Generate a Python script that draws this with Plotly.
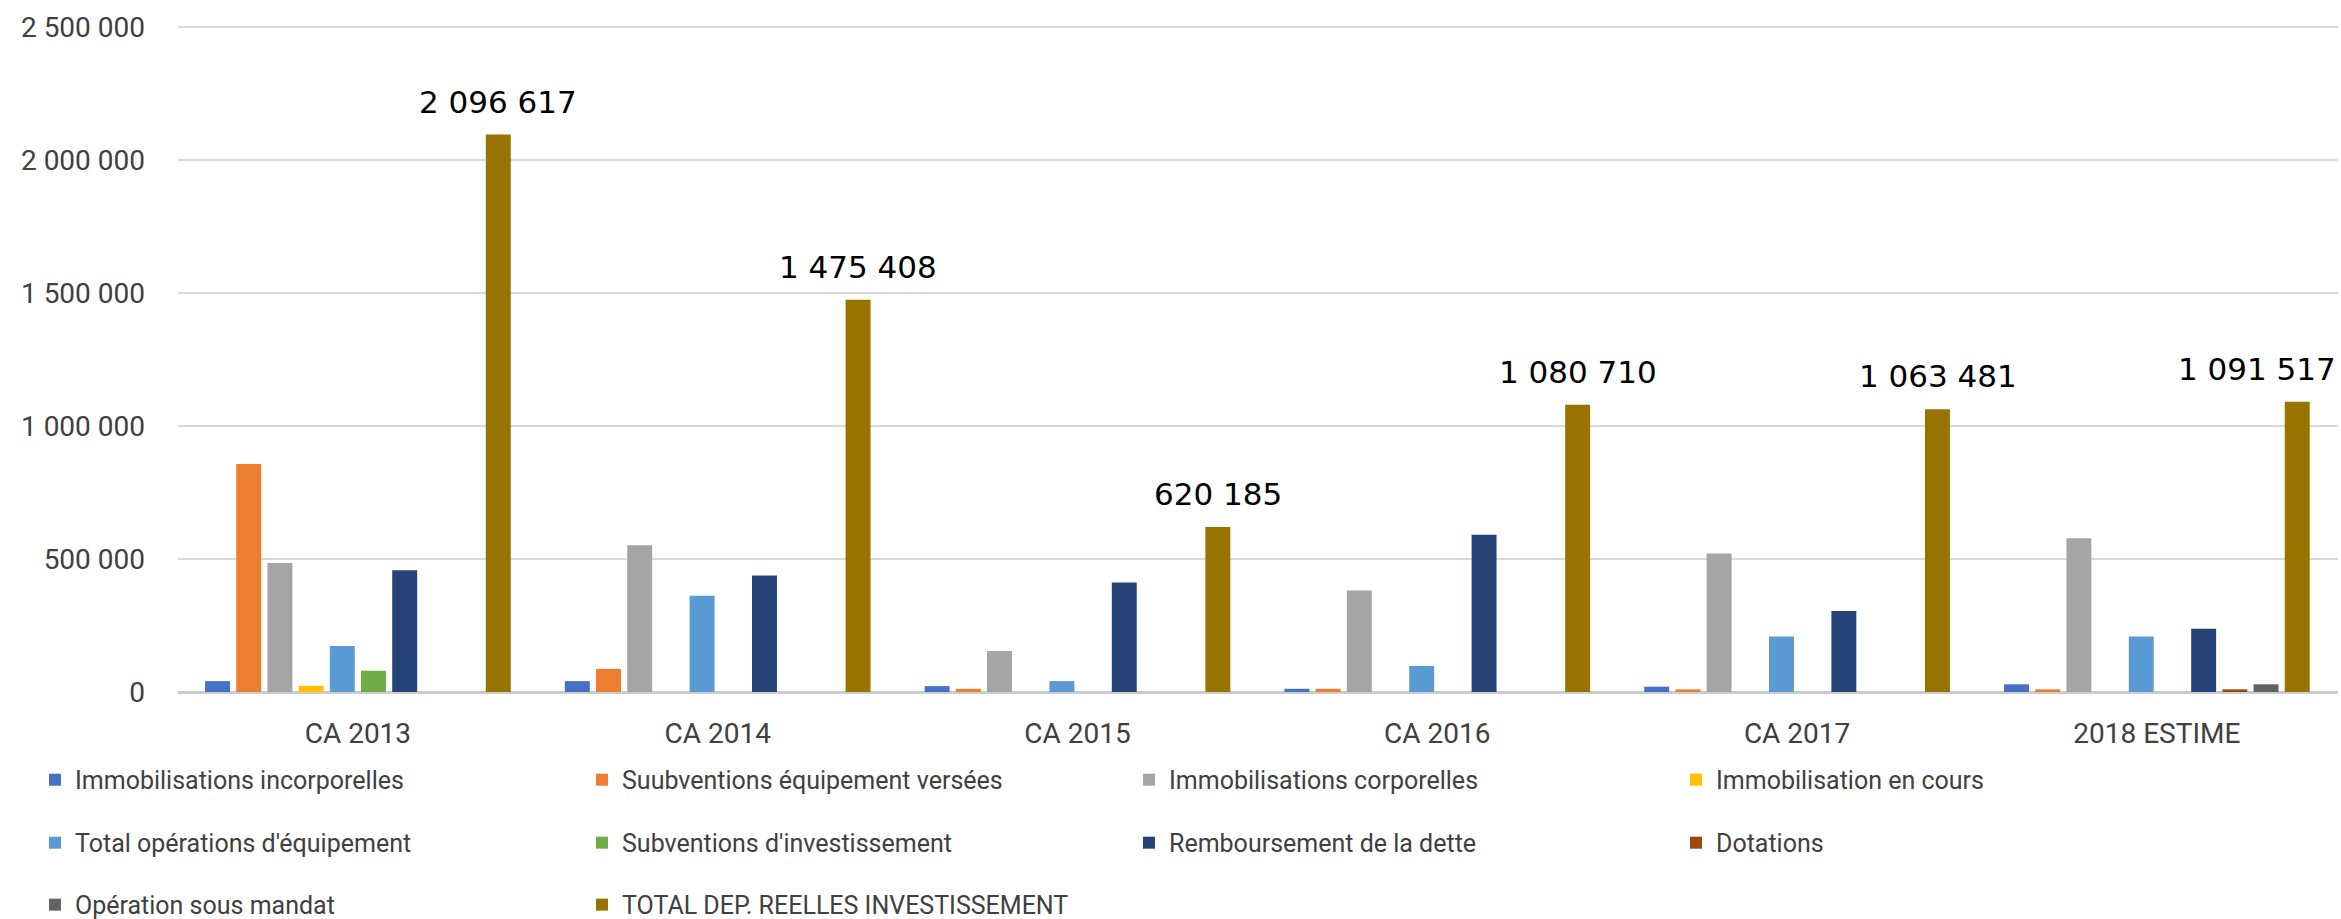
import plotly.graph_objects as go

categories = ["CA 2013", "CA 2014", "CA 2015", "CA 2016", "CA 2017", "2018 ESTIME"]

immo_incorporelles = [41000, 41000, 22000, 12000, 20000, 29000]
subv_equipement = [858000, 87000, 12000, 12000, 10000, 10000]
immo_corporelles = [485000, 552000, 154000, 382000, 521000, 578000]
immo_en_cours = [23000, None, None, None, None, None]
total_operations = [173000, 362000, 41000, 98000, 209000, 209000]
subv_investissement = [80000, None, None, None, None, None]
remboursement_dette = [458000, 438000, 412000, 591000, 305000, 238000]
dotations = [None, None, None, None, None, 10000]
operation_mandat = [None, None, None, None, None, 29000]
total_dep = [2096617, 1475408, 620185, 1080710, 1063481, 1091517]

y_ticks = [0, 500000, 1000000, 1500000, 2000000, 2500000]

series = [
    ("Immobilisations incorporelles", immo_incorporelles, "#4472C4", "legend"),
    ("Suubventions équipement versées", subv_equipement, "#ED7D31", "legend"),
    ("Immobilisations corporelles", immo_corporelles, "#A5A5A5", "legend"),
    ("Immobilisation en cours", immo_en_cours, "#FFC000", "legend"),
    ("Total opérations d'équipement", total_operations, "#5B9BD5", "legend2"),
    ("Subventions d'investissement", subv_investissement, "#70AD47", "legend2"),
    ("Remboursement de la dette", remboursement_dette, "#264478", "legend2"),
    ("Dotations", dotations, "#9E480E", "legend2"),
    ("Opération sous mandat", operation_mandat, "#636363", "legend3"),
    ("TOTAL DEP. REELLES INVESTISSEMENT", total_dep, "#997300", "legend3"),
]

def fmt(v, sep=" "):
    return f"{v:,}".replace(",", sep)

# layout geometry (pixels)
W, H = 2341, 919
ML, MR, MB = 178, 3, 227
Y_TOP_VAL = 2520000
PX_PER_UNIT = 665 / 2500000
MT = H - MB - Y_TOP_VAL * PX_PER_UNIT
PLOT_W = W - ML - MR
PLOT_H = H - MB - MT
BARGAP, BARGROUPGAP = 0.133, 0.2

fig = go.Figure()
for name, vals, color, leg in series:
    fig.add_trace(go.Bar(
        name=name, x=categories, y=vals,
        marker=dict(color=color, line=dict(width=0)),
        legend=leg,
    ))

# data labels on the TOTAL series, placed via the category axis + pixel shift
cat_w = PLOT_W / len(categories)
slot = cat_w * (1 - BARGAP) / len(series)
bar_off = (len(series) - 1 - (len(series) - 1) / 2) * slot
label_size = 31
for i, (cat, v) in enumerate(zip(categories, total_dep)):
    txt = fmt(v)
    n_dig = sum(c.isdigit() for c in txt)
    n_sp = len(txt) - n_dig
    est_w = label_size * (0.636 * n_dig + 0.318 * n_sp)
    center_px = ML + cat_w * (i + 0.5) + bar_off
    max_center = W - 4 - est_w / 2
    shift = bar_off + min(0, max_center - center_px)
    fig.add_annotation(
        x=cat, y=v, xref="x", yref="y", text=txt, showarrow=False,
        xanchor="center", yanchor="bottom", xshift=shift, yshift=13,
        font=dict(family="DejaVu Sans, sans-serif", size=label_size, color="#000000"),
    )

tick_font = dict(family="Roboto, sans-serif", size=28, color="#404040")
legend_font = dict(family="Roboto, sans-serif", size=25, color="#404040")

def leg(yc):
    return dict(
        orientation="h", xref="paper", yref="paper",
        x=(35 - ML) / PLOT_W, xanchor="left",
        y=(H - MB - yc) / PLOT_H, yanchor="middle",
        entrywidth=502, entrywidthmode="pixels", font=legend_font,
        bgcolor="rgba(0,0,0,0)", traceorder="normal",
    )

fig.update_layout(
    width=W, height=H,
    paper_bgcolor="white", plot_bgcolor="white",
    barmode="group", bargap=BARGAP, bargroupgap=BARGROUPGAP,
    margin=dict(l=ML, r=MR, t=MT, b=MB, autoexpand=False),
    showlegend=True,
    legend=leg(780),
    legend2=leg(843),
    legend3=leg(905),
    xaxis=dict(
        tickfont=tick_font, showgrid=False, showline=False, ticks="",
        ticklabelstandoff=22,
    ),
    yaxis=dict(
        range=[0, Y_TOP_VAL], tickvals=y_ticks,
        ticktext=[fmt(v) for v in y_ticks],
        tickfont=tick_font, showgrid=True, gridcolor="#D9D9D9", gridwidth=2,
        zeroline=True, zerolinecolor="#CCCCCC", zerolinewidth=3,
        showline=False, ticks="", ticklabelstandoff=32,
    ),
)

fig.write_html(
    "out.html",
    config={"displayModeBar": False},
    post_script="document.body.style.margin='0';document.body.style.overflow='hidden';",
)
